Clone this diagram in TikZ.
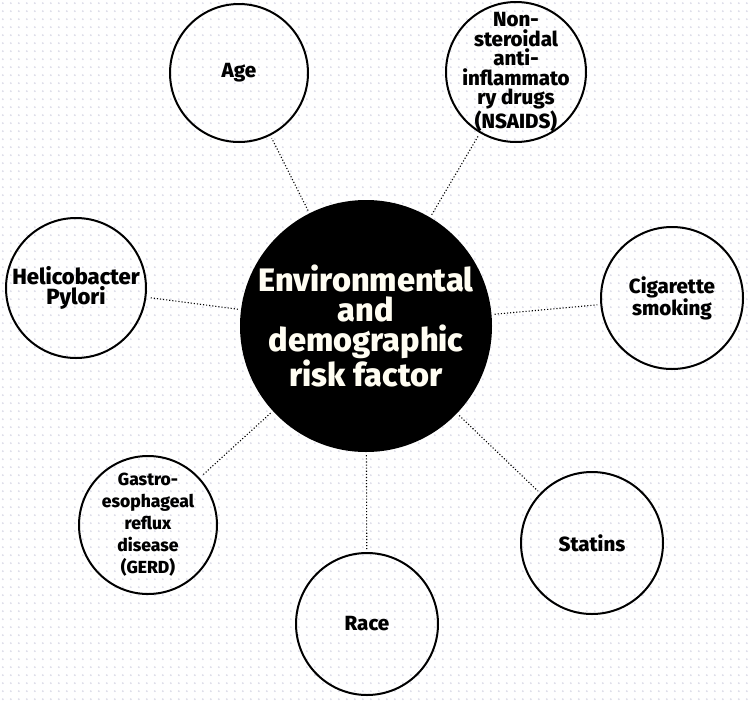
\documentclass[tikz,border=0pt]{standalone}
\usepackage{fontspec}
\setmainfont{Fira Sans}[BoldFont={Fira Sans ExtraBold}]
\usetikzlibrary{patterns.meta}
\definecolor{dotc}{HTML}{DCDCE8}
\definecolor{cream}{HTML}{FFFDF2}
\tikzdeclarepattern{
  name=gridots,
  type=uncolored,
  bounding box={(0pt,0pt) and (8.33pt,8.33pt)},
  tile size={(8.33pt,8.33pt)},
  code={\pgfpathcircle{\pgfpoint{4.165pt}{4.165pt}}{1.1pt}\pgfusepath{fill}}
}
\begin{document}
\begin{tikzpicture}[x=1pt,y=-1pt,
  outer/.style={circle,draw=black,line width=2pt,minimum size=#1,inner sep=-30pt,align=center,
    font=\fontsize{20.5}{20}\selectfont\bfseries,text=black},
  outer/.default=140pt,
  hub/.style={circle,fill=black,minimum size=252pt,inner sep=-30pt,align=center,
    font=\fontsize{32.5}{30}\selectfont\bfseries,text=cream},
  link/.style={dotted,line width=1.1pt,shorten <=3pt,shorten >=3pt}]
\useasboundingbox (0,0) rectangle (750,702);
\fill[white] (0,0) rectangle (750,702);
\fill[pattern=gridots,pattern color=dotc] (0,0) rectangle (750,702);
\node[hub] (hub) at (366,326) {Environmental\\and\\demographic\\risk factor};
\node[outer=138pt] (age) at (239,73) {Age};
\node[outer,font=\fontsize{20.5}{19.5}\selectfont\bfseries] (nsaid) at (516,72) {Non-\\steroidal\\anti-\\inflammato\\ry drugs\\(NSAIDS)};
\node[outer,font=\fontsize{22}{20}\selectfont\bfseries] (heli) at (76,288) {Helicobacter\\Pylori};
\node[outer=142pt,font=\fontsize{20.5}{22}\selectfont\bfseries] (cig) at (672,298) {Cigarette\\smoking};
\node[outer=142pt] (stat) at (592,543) {Statins};
\node[outer=142pt] (race) at (367,624) {Race};
\node[outer=138pt,font=\fontsize{17.5}{22}\selectfont\bfseries] (gerd) at (148,525) {Gastro-\\esophageal\\reflux\\disease\\(GERD)};
\foreach \n in {age,nsaid,heli,cig,stat,race,gerd} {\draw[link] (hub) -- (\n);}
\end{tikzpicture}
\end{document}
